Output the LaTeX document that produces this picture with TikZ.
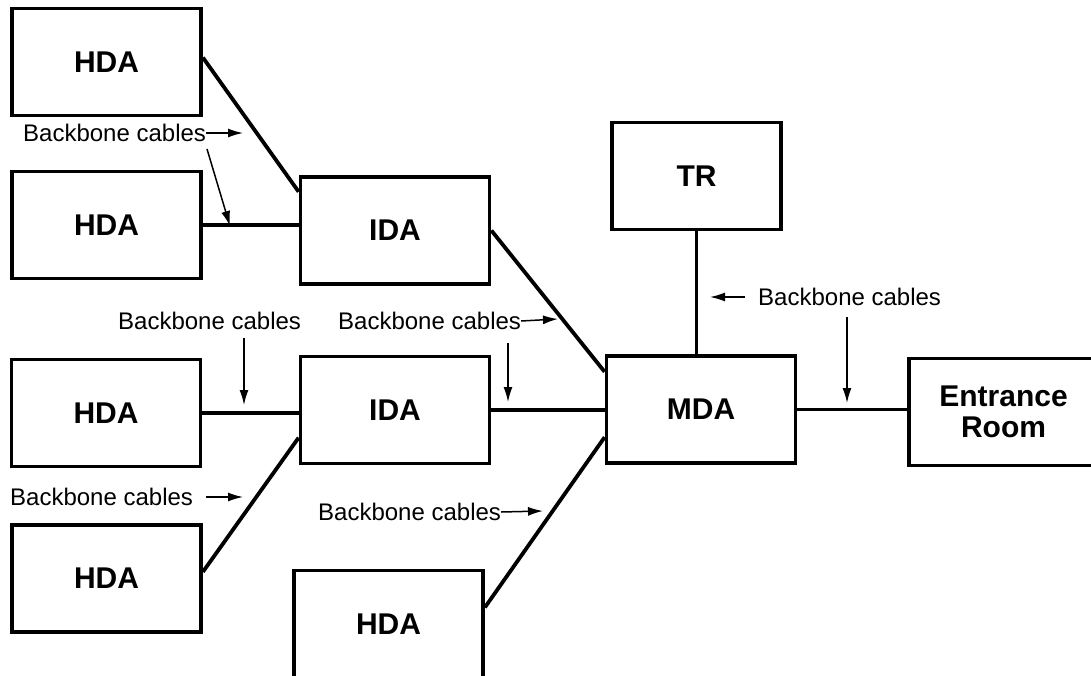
\documentclass[tikz,border=0pt]{standalone}
\usepackage{fontspec}
\setmainfont{Liberation Sans}
\usetikzlibrary{arrows.meta,calc}

\begin{document}
\begin{tikzpicture}[x=1pt,y=-1pt,
  box/.style={draw, line width=3.8pt, minimum width=189pt, minimum height=107pt,
    inner sep=0pt, align=center, font=\fontsize{30}{31}\selectfont\bfseries},
  cable/.style={line width=3.8pt},
  lbl/.style={inner sep=0pt, anchor=west, font=\fontsize{24}{28}\selectfont},
  pointer/.style={line width=1.5pt, -{Latex[length=15pt,width=9pt]}}]

\clip (0,0) rectangle (1091,676);

% distribution areas
\node[box] (hda1) at (106.5,62)    {HDA};
\node[box] (hda2) at (106.5,225)   {HDA};
\node[box] (ida1) at (395,230.5)   {IDA};
\node[box] (hda3) at (106,413)     {HDA};
\node[box] (ida2) at (395,410)     {IDA};
\node[box] (hda4) at (106.5,578.5) {HDA};
\node[box] (hda5) at (388.5,624)   {HDA};
\node[box] (mda)  at (701,409.5)   {MDA};
\node[box, minimum width=169pt] (tr) at (696.5,176) {TR};
\node[box] (ent)  at (1003.5,412)  {Entrance\\Room};

% backbone cabling
\draw[cable] ($(hda1.north east)!0.46!(hda1.south east)$) -- ($(ida1.north west)!0.15!(ida1.south west)$);
\draw[cable] (hda2.east) -- (hda2.east -| ida1.west);
\draw[cable] (ida1.east) -- ($(mda.north west)!0.16!(mda.south west)$);
\draw[cable] (hda3.east) -- (hda3.east -| ida2.west);
\draw[cable] ($(hda4.north east)!0.44!(hda4.south east)$) -- ($(ida2.north west)!0.75!(ida2.south west)$);
\draw[cable] (ida2.east) -- (ida2.east -| mda.west);
\draw[cable] ($(hda5.north east)!0.35!(hda5.south east)$) -- ($(mda.north west)!0.75!(mda.south west)$);
\draw[cable] (tr.south) -- (tr.south |- mda.north);
\draw[cable] (mda.east) -- (mda.east -| ent.west);

% labels
\node[lbl] (lab1) at (23,133)  {Backbone cables};
\node[lbl] (lab2) at (118,321) {Backbone cables};
\node[lbl] (lab3) at (338,321) {Backbone cables};
\node[lbl] (lab4) at (10,497)  {Backbone cables};
\node[lbl] (lab5) at (318,512) {Backbone cables};
\node[lbl] (lab6) at (758,297) {Backbone cables};

% pointer ends
\coordinate (p1a) at (243,133);
\coordinate (p1s) at (207,149);
\coordinate (p1b) at (230,226);
\coordinate (p2s) at (244,338);
\coordinate (p2)  at (244,405);
\coordinate (p3a) at (558,319);
\coordinate (p3s) at (508,343);
\coordinate (p3b) at (508,402);
\coordinate (p4s) at (206,497);
\coordinate (p4)  at (243,497);
\coordinate (p5)  at (543,511);
\coordinate (p6s) at (745,297);
\coordinate (p6a) at (710,297);
\coordinate (p6t) at (847,317);
\coordinate (p6b) at (847,403);

% pointers
\draw[pointer] (lab1.east) -- (p1a);
\draw[pointer] (p1s) -- (p1b);
\draw[pointer] (p2s) -- (p2);
\draw[pointer] (lab3.east) -- (p3a);
\draw[pointer] (p3s) -- (p3b);
\draw[pointer] (p4s) -- (p4);
\draw[pointer] (lab5.east) -- (p5);
\draw[pointer] (p6s) -- (p6a);
\draw[pointer] (p6t) -- (p6b);
\end{tikzpicture}
\end{document}
